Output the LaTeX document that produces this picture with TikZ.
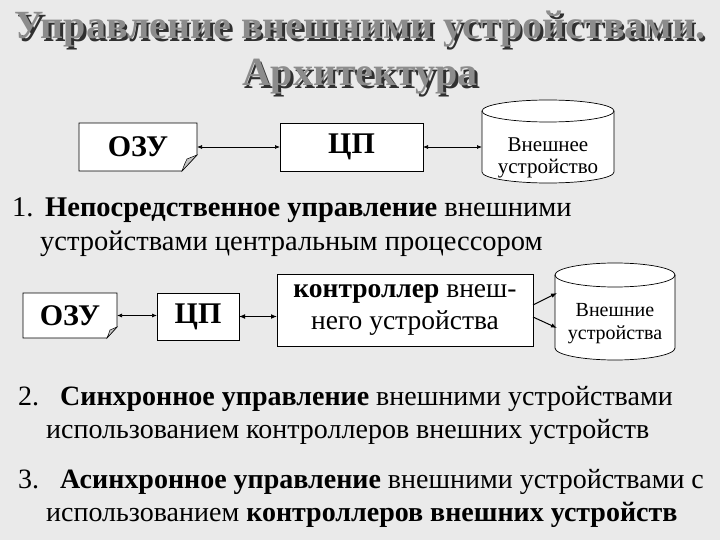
\documentclass[tikz,border=0pt]{standalone}
\usepackage{fontspec}
\setmainfont{Liberation Serif}
\usetikzlibrary{arrows.meta}
\definecolor{bgc}{HTML}{EAEAEA}
\definecolor{titlegray}{HTML}{8C8C8C}
\definecolor{shadowgray}{HTML}{303030}
\definecolor{foldgray}{HTML}{C4C4C4}
\pgfdeclarelayer{bgl}
\pgfdeclarelayer{back}
\pgfsetlayers{bgl,back,main}
\begin{document}
\begin{tikzpicture}[x=1pt,y=-1pt,
  lbl/.style={inner sep=0pt, outer sep=0pt, align=center},
  outl/.style={draw=black, fill=white, line width=0.7pt},
  dbl/.style={{Latex[length=5pt,width=4pt]}-{Latex[length=5pt,width=4pt]}, line width=0.7pt},
  sgl/.style={-{Latex[length=6pt,width=4.5pt]}, line width=1pt},
  big/.style={font=\fontsize{30}{30}\selectfont\bfseries},
  cyltxt/.style={font=\fontsize{21}{22}\selectfont},
  body/.style={font=\fontsize{28}{28}\selectfont, inner sep=0pt, anchor=base west},
  bodyA/.style={font=\fontsize{28.5}{28.5}\selectfont, inner sep=0pt, anchor=base west},
  ttl/.style={font=\fontsize{40}{47}\selectfont\bfseries, align=center, inner sep=0pt}
]
\useasboundingbox (0,0) rectangle (720,540);
\begin{pgfonlayer}{bgl}
\fill[bgc] (0,0) rectangle (720,540);
\end{pgfonlayer}

% title
\node[ttl, text=shadowgray] (titleshadow) at (362.5,55.5) {Управление внешними устройствами.\\Архитектура};
\node[ttl, text=titlegray] (title) at (360,53) {Управление внешними устройствами.\\Архитектура};

% ---------- row 1 ----------
\node[lbl, big, minimum width=118pt, minimum height=48pt] (ram1) at (138,147) {ОЗУ};
\node[lbl, big, outl, minimum width=143pt, minimum height=48pt] (cpu1) at (351.5,147) {ЦП};
\node[lbl, minimum width=132pt, minimum height=83pt] (dev1) at (548,141.5) {};
\node[lbl, cyltxt] (dev1txt) at (548,158) {Внешнее\\устройство};

\begin{pgfonlayer}{back}
\draw[outl] (ram1.north west) -- (ram1.north east) -- ([yshift=16pt]ram1.south east)
   -- ([xshift=-15pt]ram1.south east) -- (ram1.south west) -- cycle;
\draw[draw=black, fill=foldgray, line width=0.5pt] ([xshift=-15pt]ram1.south east)
   .. controls ([xshift=-12pt,yshift=8pt]ram1.south east) .. ([xshift=-10pt,yshift=12pt]ram1.south east)
   -- ([yshift=16pt]ram1.south east) -- cycle;
\draw[outl] ([yshift=-11pt]dev1.north west) -- ([yshift=11pt]dev1.south west)
   arc[start angle=180, end angle=360, x radius=66pt, y radius=11pt]
   -- ([yshift=-11pt]dev1.north east)
   arc[start angle=0, end angle=180, x radius=66pt, y radius=11pt] -- cycle;
\draw[line width=0.7pt] ([yshift=-11pt]dev1.north west)
   arc[start angle=180, end angle=360, x radius=66pt, y radius=11pt];
\end{pgfonlayer}

\draw[dbl] (ram1.east) -- (cpu1.west);
\draw[dbl] (cpu1.east) -- (cpu1.east -| dev1.west);

% item 1
\node[bodyA] (n1) at (12,217) {1.};
\node[bodyA] (t1a) at (45,217) {\textbf{Непосредственное управление} внешними};
\node[bodyA] (t1b) at (40,250) {устройствами центральным процессором};

% ---------- row 2 ----------
\node[lbl, big, minimum width=94pt, minimum height=45pt] (ram2) at (70,315.5) {ОЗУ};
\node[lbl, big, outl, minimum width=82pt, minimum height=47pt] (cpu2) at (198,316.5) {ЦП};
\node[lbl, outl, font=\fontsize{27.5}{32}\selectfont, minimum width=256pt, minimum height=72pt] (ctrl) at (405,310) {\textbf{контроллер} внеш-\\него устройства};
\node[lbl, minimum width=120pt, minimum height=97pt] (dev2) at (615,311.5) {};
\node[lbl, font=\fontsize{20}{23}\selectfont] (dev2txt) at (615,324) {Внешние\\устройства};

\begin{pgfonlayer}{back}
\draw[outl] (ram2.north west) -- (ram2.north east) -- ([yshift=11pt]ram2.south east)
   -- ([xshift=-10pt]ram2.south east) -- (ram2.south west) -- cycle;
\draw[draw=black, fill=foldgray, line width=0.5pt] ([xshift=-10pt]ram2.south east)
   .. controls ([xshift=-8pt,yshift=5pt]ram2.south east) .. ([xshift=-7pt,yshift=8pt]ram2.south east)
   -- ([yshift=11pt]ram2.south east) -- cycle;
\draw[outl] ([yshift=-12pt]dev2.north west) -- ([yshift=12pt]dev2.south west)
   arc[start angle=180, end angle=360, x radius=60pt, y radius=12pt]
   -- ([yshift=-12pt]dev2.north east)
   arc[start angle=0, end angle=180, x radius=60pt, y radius=12pt] -- cycle;
\draw[line width=0.7pt] ([yshift=-12pt]dev2.north west)
   arc[start angle=180, end angle=360, x radius=60pt, y radius=12pt];
\end{pgfonlayer}

\draw[dbl] (ram2.east) -- (ram2.east -| cpu2.west);
\draw[{Latex[length=6pt,width=5pt]}-{Latex[length=6pt,width=5pt]}, line width=1.4pt] (cpu2.east) -- (cpu2.east -| ctrl.west);
\draw[sgl] ([yshift=5pt]ctrl.east) -- ([yshift=18.5pt,xshift=2pt]dev2.west);
\draw[sgl] ([yshift=-7pt]ctrl.east) -- ([yshift=-16.5pt,xshift=2pt]dev2.west);

% item 2
\node[body] (n2) at (18,405) {2.};
\node[body] (t2a) at (60,405) {\textbf{Синхронное управление} внешними устройствами};
\node[body] (t2b) at (46,438) {использованием контроллеров внешних устройств};

% item 3
\node[body] (n3) at (18,488) {3.};
\node[body] (t3a) at (60,488) {\textbf{Асинхронное управление} внешними устройствами с};
\node[body] (t3b) at (46,521) {использованием \textbf{контроллеров внешних устройств}};
\end{tikzpicture}
\end{document}
